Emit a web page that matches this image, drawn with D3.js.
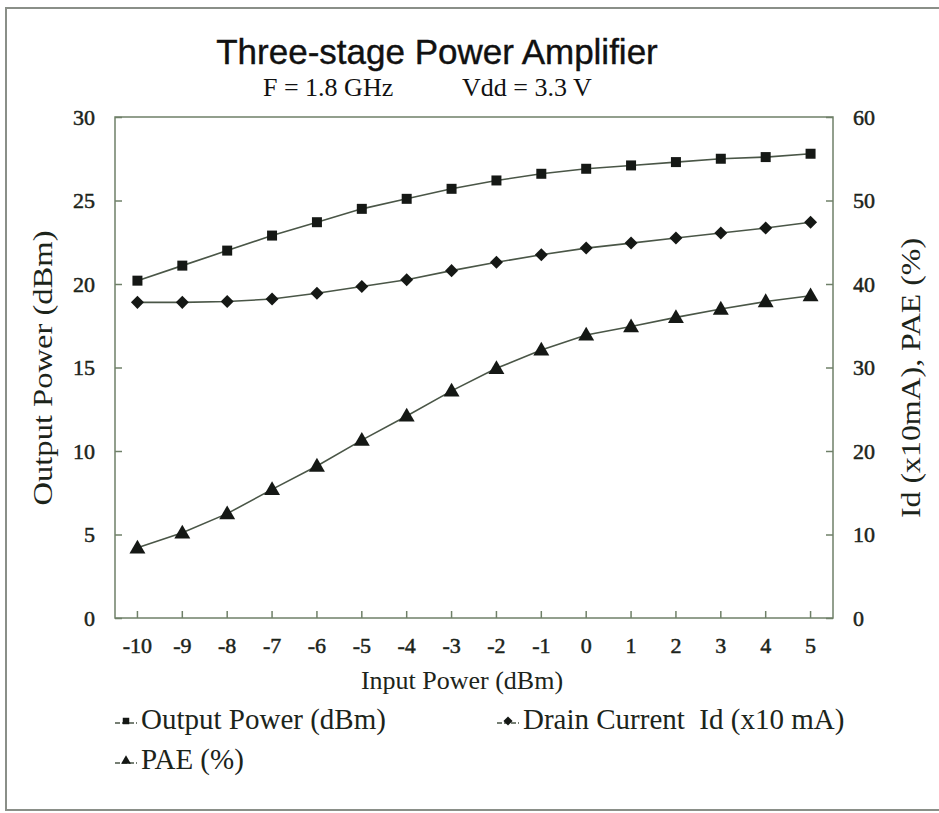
<!DOCTYPE html>
<html><head><meta charset="utf-8">
<script src="https://cdn.jsdelivr.net/npm/d3@7"></script>
<style>body{margin:0;background:#fff}svg{display:block}</style>
</head><body>
<script>
const categories = [-10,-9,-8,-7,-6,-5,-4,-3,-2,-1,0,1,2,3,4,5];
const outputPower = [20.2,21.1,22.0,22.9,23.7,24.5,25.1,25.7,26.2,26.6,26.9,27.1,27.3,27.5,27.6,27.8];
const drainCurrent = [37.8,37.8,37.9,38.2,38.9,39.7,40.5,41.6,42.6,43.5,44.3,44.9,45.5,46.1,46.7,47.4];
const pae = [8.4,10.2,12.5,15.4,18.2,21.3,24.2,27.2,29.9,32.1,33.9,34.9,36.0,37.0,37.9,38.6];
const leftTicks = [0,5,10,15,20,25,30];
const rightTicks = [0,10,20,30,40,50,60];
const seriesNames = ["Output Power (dBm)","Drain Current  Id (x10 mA)","PAE (%)"];

const W=939,H=813;
const svg=d3.select("body").append("svg").attr("width",W).attr("height",H);
const serif="'Liberation Serif','Times New Roman',serif";
const sans="'Liberation Sans',Arial,sans-serif";
const axisCol="#6f8068", textCol="#1c241a", lineCol="#4a5647", markCol="#151815";

// figure frame
svg.append("path").attr("d","M939,8 H6 V810 H939").attr("fill","none").attr("stroke","#8a8f88").attr("stroke-width",2);

const L=115,R=833,T=117,B=618;
const x=d3.scaleBand().domain(categories).range([L,R]);
const yL=d3.scaleLinear().domain([0,30]).range([B,T]);
const yR=d3.scaleLinear().domain([0,60]).range([B,T]);
const cx=d=>x(d)+x.bandwidth()/2;

svg.append("rect").attr("x",L).attr("y",T).attr("width",R-L).attr("height",B-T).attr("fill","none").attr("stroke",axisCol).attr("stroke-width",1.5);

function styleAxis(g){
  g.select(".domain").remove();
  g.selectAll("line").attr("stroke",axisCol).attr("stroke-width",1.5);
  g.selectAll("text").attr("font-family",serif).attr("font-size",22).attr("fill",textCol)
    .attr("stroke",textCol).attr("stroke-width",0.5);
}
styleAxis(svg.append("g").attr("transform",`translate(${L},0)`).call(d3.axisLeft(yL).tickValues(leftTicks).tickSizeInner(-7).tickSizeOuter(0).tickPadding(20)));
styleAxis(svg.append("g").attr("transform",`translate(${R},0)`).call(d3.axisRight(yR).tickValues(rightTicks).tickSizeInner(-7).tickSizeOuter(0).tickPadding(20)));
styleAxis(svg.append("g").attr("transform",`translate(0,${B})`).call(d3.axisBottom(x).tickSizeInner(-7).tickSizeOuter(0).tickPadding(19)));

// titles
svg.append("text").attr("x",437).attr("y",64).attr("text-anchor","middle").attr("font-family",sans).attr("font-size",35).attr("fill","#111").attr("stroke","#111").attr("stroke-width",0.4).text("Three-stage Power Amplifier");
svg.append("text").attr("x",263).attr("y",96).attr("font-family",serif).attr("font-size",26).attr("fill","#111").text("F = 1.8 GHz");
svg.append("text").attr("x",462).attr("y",96).attr("font-family",serif).attr("font-size",26).attr("fill","#111").text("Vdd = 3.3 V");
svg.append("text").attr("x",462).attr("y",689).attr("text-anchor","middle").attr("font-family",serif).attr("font-size",26).attr("fill",textCol).text("Input Power (dBm)");
svg.append("text").attr("transform","translate(52,368) rotate(-90)").attr("text-anchor","middle").attr("font-family",serif).attr("font-size",28).attr("fill",textCol)
  .attr("textLength",275).attr("lengthAdjust","spacingAndGlyphs").text("Output Power (dBm)");
svg.append("text").attr("transform","translate(920,378) rotate(-90)").attr("text-anchor","middle").attr("font-family",serif).attr("font-size",28).attr("fill",textCol)
  .attr("textLength",280).attr("lengthAdjust","spacingAndGlyphs").text("Id (x10mA), PAE (%)");

const sq=d3.symbol().type(d3.symbolSquare).size(100);
const di=d3.symbol().type(d3.symbolSquare).size(85);
const tr=d3.symbol().type(d3.symbolTriangle).size(110);

const series=[
 {vals:outputPower,y:yL,sym:sq,rot:0,dy:0},
 {vals:drainCurrent,y:yR,sym:di,rot:45,dy:0},
 {vals:pae,y:yR,sym:tr,rot:0,dy:1}
];
series.forEach(s=>{
  const line=d3.line().x((d,i)=>cx(categories[i])).y(d=>s.y(d));
  svg.append("path").attr("d",line(s.vals)).attr("fill","none").attr("stroke",lineCol).attr("stroke-width",1.6);
  svg.append("g").selectAll("path").data(s.vals).join("path")
    .attr("transform",(d,i)=>`translate(${cx(categories[i])},${s.y(d)+s.dy}) rotate(${s.rot})`)
    .attr("d",s.sym()).attr("fill",markCol);
});

// legend
const legend=[
 {sym:d3.symbolSquare,rot:0,x:115,y:720},
 {sym:d3.symbolSquare,rot:45,x:497,y:720},
 {sym:d3.symbolTriangle,rot:0,x:115,y:760}
];
legend.forEach((l,i)=>{
  const g=svg.append("g").attr("transform",`translate(${l.x},${l.y})`);
  g.append("line").attr("x1",0).attr("x2",22).attr("y1",3).attr("y2",3).attr("stroke",lineCol).attr("stroke-width",1.5).attr("stroke-dasharray","5,2");
  g.append("path").attr("transform",`translate(11,1) rotate(${l.rot})`).attr("d",d3.symbol().type(l.sym).size(42)()).attr("fill",markCol);
  g.append("text").attr("x",26).attr("y",9).attr("font-family",serif).attr("font-size",29).attr("fill",textCol).attr("xml:space","preserve").text(seriesNames[i]);
});
</script>
</body></html>
